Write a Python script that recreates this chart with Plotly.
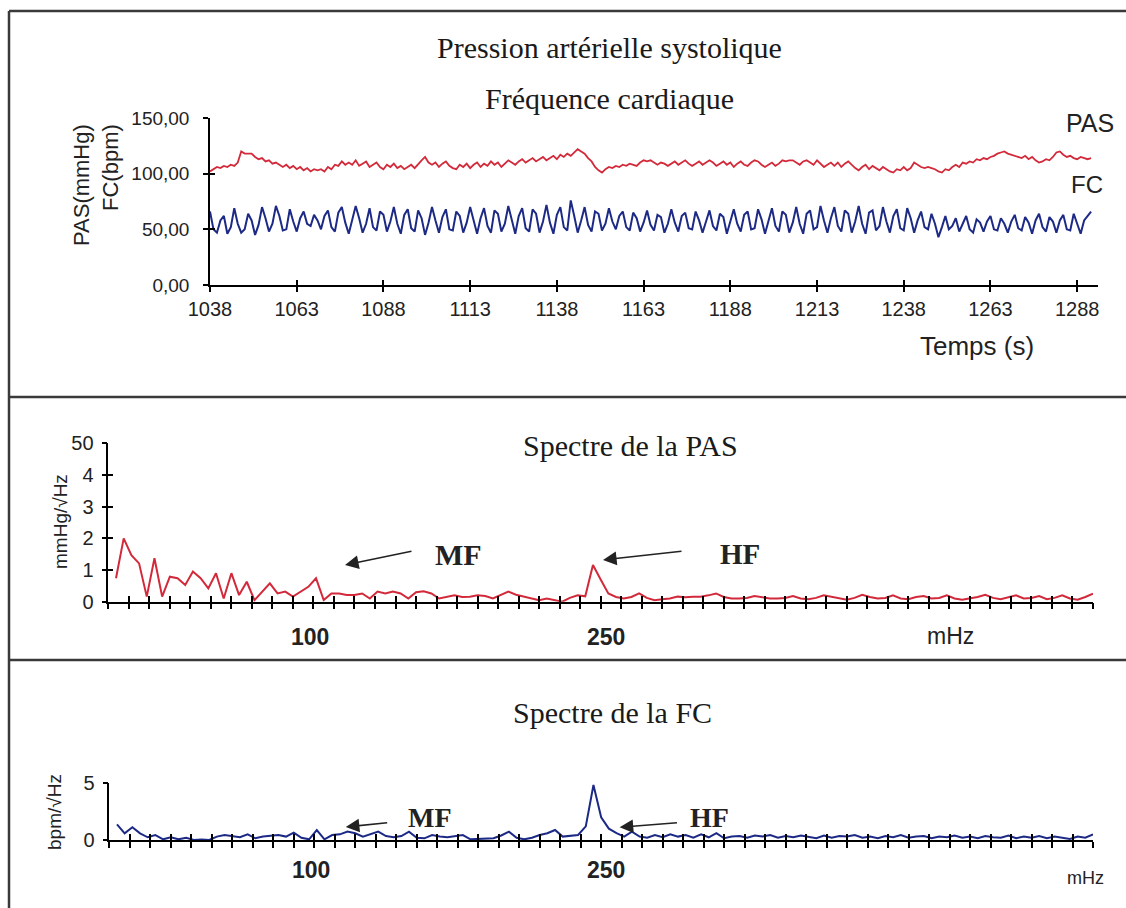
import plotly.graph_objects as go

W, H = 1126, 908

# ---------------- data ----------------
temps = list(range(1038, 1293))  # s

pas = [102, 104, 106, 105, 107, 106, 108, 107, 110, 120, 118, 118, 118, 115, 113, 114, 111, 112, 109, 110,
       108, 106, 108, 105, 107, 104, 106, 103, 105, 102, 104, 103, 104, 102, 106, 104, 108, 107, 111, 108,
       110, 108, 112, 107, 109, 111, 106, 108, 110, 106, 104, 108, 106, 109, 105, 107, 104, 106, 108, 105,
       109, 112, 115, 110, 108, 110, 106, 109, 111, 107, 105, 104, 108, 106, 109, 105, 108, 110, 106, 109,
       107, 111, 108, 110, 106, 109, 112, 110, 108, 111, 113, 110, 112, 114, 111, 113, 115, 112, 114, 116,
       113, 117, 115, 118, 116, 119, 122, 120, 118, 114, 111, 106, 103, 101, 104, 106, 105, 107, 106, 108,
       107, 109, 108, 107, 110, 112, 111, 112, 110, 108, 110, 109, 107, 109, 111, 108, 110, 112, 109, 107,
       109, 111, 108, 110, 112, 110, 107, 109, 111, 108, 110, 106, 109, 111, 108, 107, 110, 112, 111, 108,
       106, 108, 110, 107, 109, 112, 111, 112, 112, 110, 108, 111, 112, 110, 108, 112, 109, 106, 108, 110,
       107, 110, 106, 109, 111, 108, 105, 103, 106, 108, 104, 107, 105, 103, 106, 104, 102, 101, 104, 103,
       106, 103, 105, 110, 108, 106, 105, 106, 105, 104, 102, 101, 104, 103, 106, 108, 106, 110, 109, 111,
       110, 113, 112, 114, 113, 115, 116, 118, 119, 120, 118, 117, 116, 115, 114, 116, 113, 115, 112, 110,
       111, 113, 112, 115, 119, 120, 117, 115, 116, 114, 113, 115, 114, 113, 114]

fc = [66, 50, 47, 58, 62, 46, 52, 69, 55, 47, 50, 64, 58, 45, 54, 70, 60, 48, 55, 71,
      62, 49, 50, 68, 57, 48, 60, 66, 55, 53, 63, 58, 50, 62, 67, 52, 48, 65, 70, 56,
      46, 58, 71, 60, 47, 55, 69, 52, 49, 66, 63, 48, 57, 70, 55, 46, 63, 68, 51, 48,
      67, 60, 45, 56, 70, 58, 47, 61, 68, 50, 49, 66, 62, 47, 56, 70, 57, 46, 60, 69,
      53, 47, 67, 64, 48, 55, 71, 58, 46, 62, 69, 51, 48, 68, 64, 47, 57, 72, 56, 46,
      63, 70, 52, 49, 76, 62, 47, 58, 70, 54, 48, 66, 64, 49, 55, 69, 57, 50, 62, 66,
      52, 49, 65, 60, 48, 56, 67, 54, 49, 63, 61, 47, 55, 68, 56, 48, 62, 65, 51, 50,
      66, 58, 47, 57, 67, 53, 49, 64, 61, 46, 56, 68, 55, 48, 63, 66, 50, 51, 68, 59,
      46, 58, 69, 53, 48, 66, 63, 47, 56, 70, 55, 46, 64, 67, 50, 52, 71, 58, 47, 60,
      70, 53, 48, 67, 64, 47, 57, 71, 55, 46, 65, 67, 49, 53, 70, 57, 47, 62, 68, 51,
      49, 69, 60, 47, 58, 66, 52, 50, 64, 55, 43, 52, 62, 50, 53, 60, 48, 55, 62, 50,
      47, 59, 56, 48, 57, 62, 50, 49, 60, 55, 47, 57, 63, 51, 49, 61, 56, 46, 58, 64,
      52, 48, 61, 57, 47, 58, 63, 50, 49, 64, 55, 46, 58, 62, 66]

freq_step = 1000 / 256  # mHz, spectral resolution
n_bins = 128
freq = [k * freq_step for k in range(1, n_bins + 1)]

spec_pas = [0.74, 2.0, 1.47, 1.21, 0.16, 1.37, 0.16, 0.79, 0.74, 0.53,
            0.95, 0.74, 0.42, 0.9, 0.1, 0.9, 0.21, 0.63, 0.05, 0.32,
            0.58, 0.26, 0.32, 0.16, 0.32, 0.47, 0.74, 0.05, 0.26, 0.26,
            0.21, 0.21, 0.26, 0.1, 0.32, 0.26, 0.32, 0.26, 0.1, 0.3,
            0.33, 0.26, 0.1, 0.15, 0.2, 0.15, 0.16, 0.2, 0.18, 0.1,
            0.2, 0.32, 0.22, 0.16, 0.1, 0.05, 0.1, 0.05, 0.0, 0.12,
            0.2, 0.17, 1.16, 0.7, 0.26, 0.15, 0.1, 0.15, 0.26, 0.12,
            0.05, 0.08, 0.1, 0.16, 0.14, 0.16, 0.16, 0.2, 0.26, 0.15,
            0.1, 0.1, 0.12, 0.18, 0.15, 0.1, 0.1, 0.12, 0.18, 0.1,
            0.08, 0.12, 0.2, 0.15, 0.1, 0.06, 0.12, 0.22, 0.15, 0.1,
            0.12, 0.2, 0.1, 0.08, 0.15, 0.18, 0.1, 0.12, 0.2, 0.1,
            0.06, 0.1, 0.15, 0.22, 0.12, 0.08, 0.15, 0.2, 0.1, 0.12,
            0.18, 0.08, 0.12, 0.2, 0.1, 0.06, 0.15, 0.25]

spec_fc = [1.38, 0.59, 1.12, 0.59, 0.24, 0.44, 0.06, 0.24, 0.06, 0.2,
           0.0, 0.05, 0.0, 0.3, 0.44, 0.35, 0.24, 0.5, 0.15, 0.3,
           0.35, 0.44, 0.3, 0.65, 0.2, 0.06, 0.88, 0.06, 0.44, 0.5,
           0.74, 0.59, 0.3, 0.5, 0.74, 0.35, 0.24, 0.35, 0.74, 0.2,
           0.15, 0.44, 0.3, 0.24, 0.35, 0.44, 0.06, 0.1, 0.1, 0.15,
           0.4, 0.74, 0.2, 0.06, 0.2, 0.44, 0.6, 0.88, 0.3, 0.35,
           0.44, 1.2, 4.85, 2.0, 1.0, 0.6, 0.3, 0.74, 0.3, 0.2,
           0.44, 0.24, 0.5, 0.3, 0.44, 0.2, 0.5, 0.24, 0.6, 0.15,
           0.3, 0.35, 0.2, 0.4, 0.3, 0.44, 0.2, 0.35, 0.24, 0.4,
           0.3, 0.15, 0.4, 0.2, 0.35, 0.3, 0.44, 0.2, 0.3, 0.15,
           0.35, 0.24, 0.44, 0.2, 0.3, 0.35, 0.15, 0.3, 0.24, 0.4,
           0.2, 0.3, 0.15, 0.35, 0.24, 0.2, 0.4, 0.15, 0.3, 0.2,
           0.35, 0.15, 0.3, 0.2, 0.1, 0.3, 0.2, 0.5]

top_ticks = [1038, 1063, 1088, 1113, 1138, 1163, 1188, 1213, 1238, 1263, 1288]
top_yticks = [0, 50, 100, 150]
top_yticktext = ["0,00", "50,00", "100,00", "150,00"]
mid_yticks = [0, 1, 2, 3, 4, 5]
mid_yticktext = ["0", "1", "2", "3", "4", "50"]
bot_yticks = [0, 5]
freq_labels = [100, 250]

RED = "#d22a3a"
BLUE = "#1c2a86"
SANS = "Liberation Sans, Arial, sans-serif"
SERIF = "Liberation Serif, Times New Roman, serif"
INK = "#222222"


def px(x):
    return x / W


def py(y):
    return 1 - y / H


fig = go.Figure()

# ---- traces ----
fig.add_trace(go.Scatter(x=temps, y=pas, mode="lines", line=dict(color=RED, width=1.8),
                         xaxis="x", yaxis="y", showlegend=False, name="PAS"))
fig.add_trace(go.Scatter(x=temps, y=fc, mode="lines", line=dict(color=BLUE, width=2),
                         xaxis="x", yaxis="y", showlegend=False, name="FC"))
fig.add_trace(go.Scatter(x=freq, y=spec_pas, mode="lines", line=dict(color=RED, width=2),
                         xaxis="x2", yaxis="y2", showlegend=False, name="Spectre PAS"))
fig.add_trace(go.Scatter(x=freq, y=spec_fc, mode="lines", line=dict(color=BLUE, width=2),
                         xaxis="x3", yaxis="y3", showlegend=False, name="Spectre FC"))
# empty traces so the overlay (inside-tick) axes are drawn
for xa, ya in (("x4", "y4"), ("x5", "y5"), ("x6", "y6")):
    fig.add_trace(go.Scatter(x=[None], y=[None], xaxis=xa, yaxis=ya, showlegend=False,
                             hoverinfo="skip"))

# ---- axes geometry (pixels) ----
top_x = [px(210), px(1098)]
top_y = [py(285), py(118)]
mid_x = [px(108.3), px(1093)]
mid_y = [py(601.7), py(443.3)]
bot_x = [px(109.3), px(1093)]
bot_y = [py(840), py(783.3)]

x_range_top = [1038, 1294]
f_range = [0, 500]
ftick = 500 / 48

base_x = dict(showgrid=False, zeroline=False, showline=True, linecolor="black", linewidth=1.5,
              ticks="outside", ticklen=5, tickwidth=1.5, tickcolor="black", automargin=False)
base_y = dict(showgrid=False, zeroline=False, showline=True, linecolor="black", linewidth=1.5,
              ticks="outside", ticklen=5, tickwidth=1.5, tickcolor="black", automargin=False)
over = dict(showgrid=False, zeroline=False, showline=False, ticks="inside", ticklen=5,
            tickwidth=1.5, tickcolor="black", showticklabels=False, automargin=False)

fig.update_layout(
    width=W, height=H, margin=dict(l=0, r=0, t=0, b=0, pad=0, autoexpand=False),
    paper_bgcolor="white", plot_bgcolor="rgba(0,0,0,0)",
    xaxis=dict(base_x, domain=top_x, range=x_range_top, anchor="y", tickmode="array",
               tickvals=top_ticks, ticktext=[str(t) for t in top_ticks],
               tickfont=dict(family=SANS, size=20, color=INK)),
    yaxis=dict(base_y, domain=top_y, range=[0, 150], anchor="x", tickmode="array",
               tickvals=top_yticks, ticktext=top_yticktext, ticklabelstandoff=10,
               tickfont=dict(family=SANS, size=19, color=INK)),
    xaxis2=dict(base_x, domain=mid_x, range=f_range, anchor="y2", tick0=0, dtick=ftick,
                ticklen=6, showticklabels=False),
    yaxis2=dict(base_y, domain=mid_y, range=[0, 5], anchor="x2", tickmode="array",
                tickvals=mid_yticks, ticktext=mid_yticktext, ticklabelstandoff=4,
                tickfont=dict(family=SANS, size=20, color=INK)),
    xaxis3=dict(base_x, domain=bot_x, range=f_range, anchor="y3", tick0=0, dtick=ftick,
                ticklen=6, showticklabels=False),
    yaxis3=dict(base_y, domain=bot_y, range=[0, 5], anchor="x3", tickmode="array",
                tickvals=bot_yticks, ticktext=[str(v) for v in bot_yticks], ticklabelstandoff=4,
                tickfont=dict(family=SANS, size=20, color=INK)),
    # overlay axes giving the crossing tick marks
    xaxis4=dict(over, domain=top_x, range=x_range_top, anchor="y4", overlaying="x",
                tickmode="array", tickvals=top_ticks),
    yaxis4=dict(over, domain=top_y, range=[0, 150], anchor="x4", overlaying="y",
                tickmode="array", tickvals=top_yticks),
    xaxis5=dict(over, domain=mid_x, range=f_range, anchor="y5", overlaying="x2",
                tick0=0, dtick=ftick, ticklen=6),
    yaxis5=dict(over, domain=mid_y, range=[0, 5], anchor="x5", overlaying="y2",
                tickmode="array", tickvals=mid_yticks),
    xaxis6=dict(over, domain=bot_x, range=f_range, anchor="y6", overlaying="x3",
                tick0=0, dtick=ftick, ticklen=6),
    yaxis6=dict(over, domain=bot_y, range=[0, 5], anchor="x6", overlaying="y3",
                tickmode="array", tickvals=bot_yticks),
)

# ---- frame lines ----
frame = dict(color="#3a3a3a", width=2.5)
shapes = [
    dict(type="line", xref="paper", yref="paper", x0=px(9), x1=1, y0=py(11), y1=py(11), line=frame),
    dict(type="line", xref="paper", yref="paper", x0=px(9), x1=px(9), y0=py(11), y1=py(908), line=frame),
    dict(type="line", xref="paper", yref="paper", x0=px(9), x1=1, y0=py(397), y1=py(397), line=frame),
    dict(type="line", xref="paper", yref="paper", x0=px(9), x1=1, y0=py(660), y1=py(660), line=frame),
]
fig.update_layout(shapes=shapes)

ann = []


def text(x, y, s, size, family=SANS, bold=False, xanchor="center", color=INK, **kw):
    if bold:
        s = "<b>" + s + "</b>"
    ann.append(dict(x=px(x), y=py(y), xref="paper", yref="paper", text=s, showarrow=False,
                    xanchor=xanchor, yanchor="middle", font=dict(family=family, size=size, color=color),
                    **kw))


# titles
text(609, 47, "Pression artérielle systolique", 30, family=SERIF, color="#1a1a1a")
text(609, 98, "Fréquence cardiaque", 30, family=SERIF, color="#1a1a1a")
text(630, 445, "Spectre de la PAS", 30, family=SERIF, color="#1a1a1a")
text(612, 712, "Spectre de la FC", 30, family=SERIF, color="#1a1a1a")

# top panel labels
text(1090, 123, "PAS", 25)
text(1087, 185, "FC", 24)
text(977, 346, "Temps (s)", 26)
ann.append(dict(x=px(96), y=py(185), xref="paper", yref="paper",
                text="PAS(mmHg)<br>FC(bpm)", showarrow=False, textangle=-90, align="right",
                xanchor="center", yanchor="middle", font=dict(family=SANS, size=22, color=INK)))

# spectra y titles
ann.append(dict(x=px(60), y=py(521), xref="paper", yref="paper", text="mmHg/√Hz",
                showarrow=False, textangle=-90, xanchor="center", yanchor="middle",
                font=dict(family=SANS, size=19, color=INK)))
ann.append(dict(x=px(54), y=py(812), xref="paper", yref="paper", text="bpm/√Hz",
                showarrow=False, textangle=-90, xanchor="center", yanchor="middle",
                font=dict(family=SANS, size=19, color=INK)))

# frequency labels (placed through the frequency axes)
for f in freq_labels:
    ann.append(dict(x=f, y=0, xref="x2", yref="y2", text="<b>%d</b>" % f, showarrow=False,
                    xshift=5, yshift=-35, font=dict(family=SANS, size=23, color=INK)))
    ann.append(dict(x=f, y=0, xref="x3", yref="y3", text="<b>%d</b>" % f, showarrow=False,
                    xshift=5, yshift=-30, font=dict(family=SANS, size=23, color=INK)))
text(950, 636, "mHz", 23)
text(1085, 878, "mHz", 18)

# MF / HF labels
text(458, 554, "MF", 30, family=SERIF, bold=True)
text(740, 554, "HF", 29, family=SERIF, bold=True)
text(430, 817, "MF", 28, family=SERIF, bold=True)
text(710, 817, "HF", 28, family=SERIF, bold=True)

# arrows (head at x,y ; tail at ax,ay, in data units)
arrow = dict(showarrow=True, text="", arrowhead=2, arrowsize=1.7, arrowwidth=1.6,
             arrowcolor="#222222")
ann.append(dict(arrow, x=120.2, y=1.16, xref="x2", yref="y2", ax=154.7, ay=1.6,
                axref="x2", ayref="y2"))
ann.append(dict(arrow, x=251.2, y=1.32, xref="x2", yref="y2", ax=291.8, ay=1.6,
                axref="x2", ayref="y2"))
ann.append(dict(arrow, x=120.2, y=1.15, xref="x3", yref="y3", ax=142.0, ay=1.53,
                axref="x3", ayref="y3"))
ann.append(dict(arrow, x=259.4, y=1.12, xref="x3", yref="y3", ax=289.3, ay=1.53,
                axref="x3", ayref="y3"))

fig.update_layout(annotations=ann)

fig.write_html(
    "out.html",
    config={"displayModeBar": False},
    post_script="document.body.style.margin='0';document.body.style.overflow='hidden';",
)
